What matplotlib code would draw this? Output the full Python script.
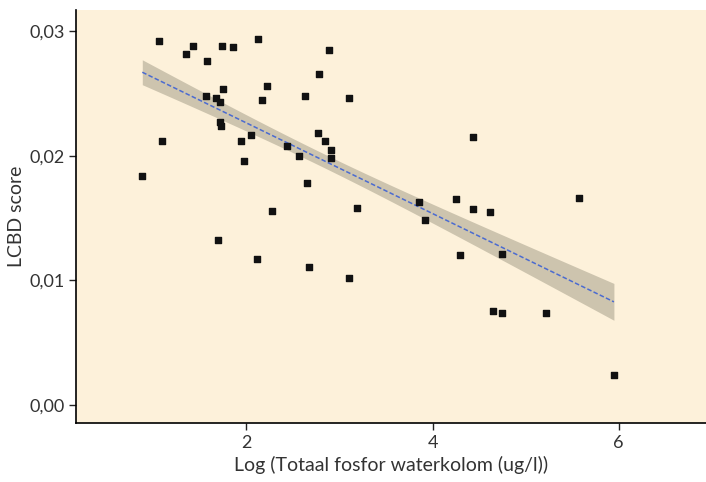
import numpy as np
import matplotlib
matplotlib.use('Agg')
import matplotlib.pyplot as plt
from matplotlib.ticker import FuncFormatter

plt.rcParams['font.family'] = ['Lato', 'DejaVu Sans']

# log total phosphorus (x) vs LCBD score (y)
log_tp = [0.88, 1.06, 1.09, 1.35, 1.42, 1.58, 1.57, 1.67, 1.71, 1.74,
          1.86, 1.75, 1.71, 1.73, 1.94, 1.97, 2.05, 2.12, 2.17, 2.22,
          2.27, 1.69, 2.44, 2.57, 2.63, 2.65, 2.78, 2.77, 2.84, 2.89,
          2.91, 2.91, 3.10, 3.19, 2.11, 2.67, 3.10, 4.43, 3.86, 4.25,
          4.44, 4.62, 5.57, 3.92, 4.30, 4.75, 4.65, 4.75, 5.22, 5.95]
lcbd = [0.0184, 0.0292, 0.0212, 0.0282, 0.0288, 0.0276, 0.0248, 0.0246, 0.0243, 0.0288,
        0.0287, 0.0254, 0.0227, 0.0224, 0.0212, 0.0196, 0.0217, 0.0294, 0.0245, 0.0256,
        0.0156, 0.0132, 0.0208, 0.0200, 0.0248, 0.0178, 0.0266, 0.0218, 0.0212, 0.0285,
        0.0205, 0.0198, 0.0246, 0.0158, 0.0117, 0.0111, 0.0102, 0.0215, 0.0163, 0.0165,
        0.0157, 0.0155, 0.0166, 0.0148, 0.0120, 0.0121, 0.0075, 0.0074, 0.0074, 0.0024]

x = np.array(log_tp)
y = np.array(lcbd)

# OLS fit with a confidence band (band width matched to the figure)
n = len(x)
slope, intercept = np.polyfit(x, y, 1)
resid = y - (slope * x + intercept)
s = np.sqrt(np.sum(resid ** 2) / (n - 2))
xs = np.linspace(x.min(), x.max(), 100)
ys = slope * xs + intercept
se = s * np.sqrt(1 / n + (xs - x.mean()) ** 2 / np.sum((x - x.mean()) ** 2))
ci = 0.8 * se

fig = plt.figure(figsize=(7.06, 4.82), dpi=100)
ax = fig.add_axes([0.108, 0.123, 0.892, 0.856])
ax.set_facecolor('#fdf1da')

ax.fill_between(xs, ys - ci, ys + ci, color='#cdc4ae', linewidth=0)
ax.plot(xs, ys, color='#4b6bd0', linewidth=1.1, linestyle=(0, (3, 1.5)))
ax.scatter(x, y, marker='s', s=14, color='#111111', zorder=3)

ax.set_xlim(0.17, 6.94)
ax.set_ylim(-0.00145, 0.0317)
ax.set_xticks([2, 4, 6])
ax.set_yticks([0.0, 0.01, 0.02, 0.03])
ax.yaxis.set_major_formatter(FuncFormatter(lambda v, p: f'{v:.2f}'.replace('.', ',')))

for side in ['top', 'right']:
    ax.spines[side].set_visible(False)
for side in ['left', 'bottom']:
    ax.spines[side].set_linewidth(1.2)
ax.tick_params(direction='out', length=5, width=1, labelsize=13, color='#222222', labelcolor='#333333')

ax.set_xlabel('Log (Totaal fosfor waterkolom (ug/l))', fontsize=14, color='#333333', labelpad=4)
ax.set_ylabel('LCBD score', fontsize=14, color='#333333', labelpad=3)

fig.savefig('out.png', dpi=100)
